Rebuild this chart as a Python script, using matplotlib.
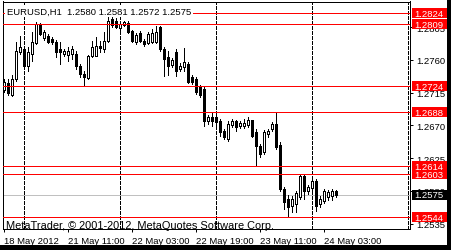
import numpy as np
import matplotlib
matplotlib.use("Agg")
import matplotlib.pyplot as plt
from matplotlib.patches import Rectangle
from matplotlib.transforms import IdentityTransform

plt.rcParams['font.family'] = ['Liberation Sans', 'DejaVu Sans']

# EURUSD H1 bars, 18 May 2012 19:00 .. 24 May 2012 06:00
opens = [1.2718, 1.2728, 1.2712, 1.2734, 1.2771, 1.2775, 1.2752, 1.2768, 1.2783, 1.2809,
         1.2790, 1.2793, 1.2789, 1.2785, 1.2775, 1.2768, 1.2767, 1.2768, 1.2768, 1.2752,
         1.2741, 1.2735, 1.2765, 1.2765, 1.2779, 1.2775, 1.2786, 1.2816, 1.2814, 1.2804,
         1.2808, 1.2811, 1.2800, 1.2785, 1.2797, 1.2786, 1.2783, 1.2785, 1.2785, 1.2805,
         1.2775, 1.2764, 1.2753, 1.2771, 1.2748, 1.2750, 1.2754, 1.2737, 1.2734, 1.2723,
         1.2720, 1.2676, 1.2682, 1.2682, 1.2676, 1.2662, 1.2651, 1.2671, 1.2676, 1.2669,
         1.2669, 1.2671, 1.2677, 1.2661, 1.2642, 1.2634, 1.2658, 1.2665, 1.2672, 1.2643,
         1.2583, 1.2569, 1.2559, 1.2562, 1.2572, 1.2600, 1.2580, 1.2584, 1.2594, 1.2562,
         1.2566, 1.2572, 1.2573, 1.2580]
highs = [1.2734, 1.2734, 1.2739, 1.2785, 1.2793, 1.2779, 1.2778, 1.2798, 1.2812, 1.2811,
         1.2801, 1.2796, 1.2791, 1.2787, 1.2785, 1.2775, 1.2778, 1.2779, 1.2772, 1.2755,
         1.2745, 1.2767, 1.2786, 1.2791, 1.2786, 1.2798, 1.2822, 1.2819, 1.2817, 1.2812,
         1.2813, 1.2814, 1.2801, 1.2797, 1.2800, 1.2789, 1.2798, 1.2802, 1.2807, 1.2807,
         1.2778, 1.2772, 1.2763, 1.2775, 1.2756, 1.2776, 1.2757, 1.2739, 1.2737, 1.2726,
         1.2723, 1.2685, 1.2689, 1.2685, 1.2679, 1.2665, 1.2676, 1.2679, 1.2677, 1.2676,
         1.2679, 1.2682, 1.2678, 1.2665, 1.2645, 1.2664, 1.2665, 1.2675, 1.2688, 1.2647,
         1.2585, 1.2575, 1.2573, 1.2580, 1.2602, 1.2602, 1.2588, 1.2597, 1.2597, 1.2573,
         1.2583, 1.2582, 1.2583, 1.2581]
lows = [1.2716, 1.2712, 1.2710, 1.2731, 1.2768, 1.2748, 1.2745, 1.2759, 1.2782, 1.2794,
        1.2787, 1.2783, 1.2782, 1.2764, 1.2755, 1.2765, 1.2759, 1.2761, 1.2748, 1.2737,
        1.2724, 1.2734, 1.2764, 1.2765, 1.2771, 1.2771, 1.2784, 1.2805, 1.2804, 1.2801,
        1.2807, 1.2797, 1.2785, 1.2782, 1.2785, 1.2779, 1.2782, 1.2783, 1.2783, 1.2772,
        1.2738, 1.2739, 1.2750, 1.2738, 1.2745, 1.2745, 1.2728, 1.2727, 1.2713, 1.2709,
        1.2669, 1.2672, 1.2669, 1.2671, 1.2656, 1.2651, 1.2649, 1.2668, 1.2662, 1.2666,
        1.2666, 1.2668, 1.2654, 1.2614, 1.2627, 1.2631, 1.2654, 1.2662, 1.2638, 1.2580,
        1.2555, 1.2544, 1.2551, 1.2551, 1.2569, 1.2569, 1.2576, 1.2580, 1.2553, 1.2558,
        1.2564, 1.2568, 1.2568, 1.2572]
closes = [1.2730, 1.2715, 1.2734, 1.2772, 1.2778, 1.2752, 1.2771, 1.2785, 1.2809, 1.2796,
          1.2798, 1.2785, 1.2785, 1.2771, 1.2771, 1.2772, 1.2772, 1.2775, 1.2752, 1.2741,
          1.2737, 1.2765, 1.2778, 1.2779, 1.2777, 1.2786, 1.2813, 1.2808, 1.2805, 1.2809,
          1.2812, 1.2798, 1.2786, 1.2794, 1.2786, 1.2782, 1.2795, 1.2797, 1.2798, 1.2775,
          1.2761, 1.2752, 1.2760, 1.2745, 1.2752, 1.2757, 1.2730, 1.2730, 1.2716, 1.2712,
          1.2676, 1.2682, 1.2676, 1.2675, 1.2661, 1.2654, 1.2672, 1.2676, 1.2668, 1.2673,
          1.2674, 1.2678, 1.2655, 1.2642, 1.2631, 1.2661, 1.2662, 1.2672, 1.2640, 1.2583,
          1.2565, 1.2558, 1.2569, 1.2577, 1.2601, 1.2580, 1.2586, 1.2594, 1.2559, 1.2569,
          1.2580, 1.2579, 1.2580, 1.2575]

red_levels = [1.2824, 1.2809, 1.2724, 1.2688, 1.2614, 1.2603, 1.2544]
bid = 1.2575
price_ticks = [1.2805, 1.2760, 1.2715, 1.2670, 1.2625, 1.2580, 1.2535]
day_bars = [5, 29, 53, 77, 101]          # bars that open a new day
xtick_bars = [0, 16, 32, 48, 64, 80]
xtick_labels = ['18 May 2012', '21 May 11:00', '22 May 03:00',
                '22 May 19:00', '23 May 11:00', '24 May 03:00']
title = 'EURUSD,H1  1.2580 1.2581 1.2572 1.2575'
copyright_text = 'MetaTrader, \u00a9 2001-2012, MetaQuotes Software Corp.'

W, H = 451, 251
fig = plt.figure(figsize=(W / 100, H / 100), dpi=100)
fig.patch.set_facecolor('white')
# chart area in pixels: x 2.5..409.5, y 2.5..229.5 (from top)
ax = fig.add_axes([2.5 / W, (H - 229.5) / H, 407 / W, 227 / H])
ax.set_xlim(-0.25, 101.5)
ax.set_ylim(1.25285, 1.28402)

o = np.array(opens); h = np.array(highs); l = np.array(lows); c = np.array(closes)
x = np.arange(len(o))
up = c >= o

# day separators
for b in day_bars:
    ax.axvline(b, color='black', lw=0.72, linestyle=(0, (3, 2)), antialiased=False, zorder=1)

ax.axhline(bid, color='#c0c0c0', lw=0.72, antialiased=False, zorder=1.5)

# candles
ax.vlines(x, l, h, color='black', lw=0.72, antialiased=False, zorder=2)
body_lo = np.minimum(o, c)
body_h = np.maximum(np.abs(c - o), 0.00008)
ax.bar(x[up], body_h[up], bottom=body_lo[up], width=0.5, color='white',
       edgecolor='black', lw=0.72, antialiased=False, zorder=3)
ax.bar(x[~up], body_h[~up], bottom=body_lo[~up], width=0.5, color='black',
       edgecolor='black', lw=0.72, antialiased=False, zorder=3)

for lv in red_levels:
    ax.axhline(lv, color='red', lw=0.72, antialiased=False, zorder=4)

for s in ax.spines.values():
    s.set_color('black')
    s.set_linewidth(0.72)

ax.yaxis.tick_right()
ax.set_yticks(price_ticks)
ax.set_yticklabels([f'{p:.4f}' for p in price_ticks])
ax.tick_params(axis='y', direction='out', length=2.2, width=0.72, pad=2.5,
               labelsize=6.8, colors='black')
ax.set_xticks(xtick_bars)
ax.set_xticklabels(xtick_labels)
ax.tick_params(axis='x', direction='out', length=2.2, width=0.72, pad=3.5,
               labelsize=6.8, colors='black')
for t in ax.get_xticklabels():
    t.set_ha('left')

fig.canvas.draw()

# price boxes on the right scale
def box(price, face):
    yd = ax.transData.transform((0, price))[1]
    fig.patches.append(Rectangle((411.5, yd - 5), 35, 10, facecolor=face, edgecolor='none',
                                 transform=IdentityTransform(), figure=fig, zorder=5))
    fig.text(414 / W, yd / H, f'{price:.4f}', color='white', fontsize=6.8,
             va='center', ha='left', zorder=6)

for lv in red_levels:
    box(lv, 'red')
box(bid, 'black')

fig.text(7 / W, (H - 14.5) / H, title, fontsize=6.8, va='baseline', ha='left', zorder=6,
         bbox=dict(facecolor='white', edgecolor='none', pad=1.2))
fig.text(6 / W, (H - 229) / H, copyright_text, fontsize=7.9, va='baseline', ha='left', zorder=6)

# window border
fig.patches.append(Rectangle((447 / W, 0), 4 / W, 1, facecolor='black', edgecolor='none',
                             transform=fig.transFigure, figure=fig))
fig.patches.append(Rectangle((0, 0), 1, 5 / H, facecolor='black', edgecolor='none',
                             transform=fig.transFigure, figure=fig))

fig.savefig('out.png', dpi=100)
